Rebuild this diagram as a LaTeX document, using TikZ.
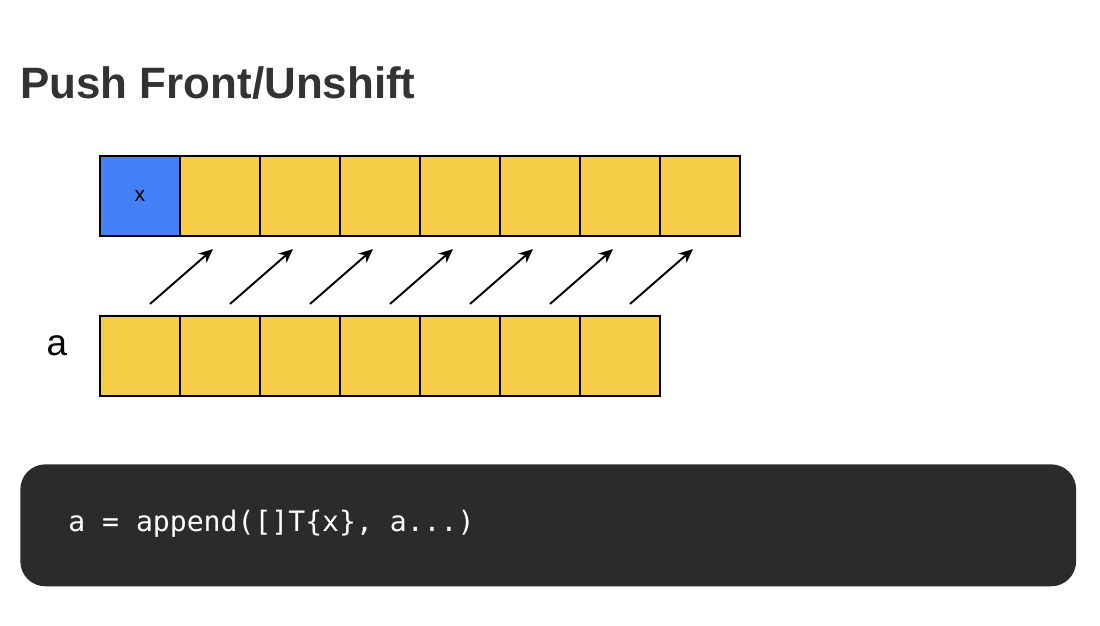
\documentclass[tikz,border=0pt]{standalone}
\usepackage{fontspec}
\setmainfont{Liberation Sans}
\setmonofont{DejaVu Sans Mono}
\usetikzlibrary{calc, arrows.meta}
\definecolor{cellyellow}{HTML}{F6CD47}
\definecolor{cellblue}{HTML}{4480F7}
\definecolor{codebg}{HTML}{2B2B2B}
\definecolor{titlegray}{HTML}{333333}
\tikzset{
  cell/.style = {rectangle, draw=black, line width=1.2pt, fill=cellyellow, minimum width=1.6cm, minimum height=1.6cm, inner sep=0pt, font=\fontsize{12}{14}\selectfont},
  newcell/.style = {cell, fill=cellblue},
  arrow/.style = {line width=1.1pt, -{Stealth[length=8pt, width=7pt]}}
}
\begin{document}
\begin{tikzpicture}[x=0.02cm, y=-0.02cm]
    \useasboundingbox (0,0) rectangle (1100,626);
    \node (title) [anchor=base west, inner sep=0pt, text=titlegray, font=\fontsize{25}{30}\selectfont\bfseries] at (20,98) {Push Front/Unshift};

    % result slice
    \node (t1) [newcell] at (140,196) {x};
    \foreach \i [remember=\i as \j (initially 1)] in {2,...,8}
        \node (t\i) [cell] at ($(t\j)+(80,0)$) {};

    % original slice
    \node (b1) [cell] at (140,356) {};
    \foreach \i [remember=\i as \j (initially 1)] in {2,...,7}
        \node (b\i) [cell] at ($(b\j)+(80,0)$) {};
    \node (alabel) [font=\fontsize{21}{24}\selectfont] at (57,346) {a};

    \foreach \i [evaluate=\i as \k using int(\i+1)] in {1,...,7}
        \draw [arrow] ($(b\i.north)+(10,-11)$) -- ($(t\k.south)+(-7,12)$);

    % code
    \node (code) [fill=codebg, rounded corners=0.5cm, minimum width=21.12cm, minimum height=2.44cm, anchor=north west] at (20,464) {};
    \node (codetext) [anchor=west, inner sep=0pt, text=white, font=\ttfamily\fontsize{16}{19}\selectfont] at (68,524) {a = append([]T\{x\}, a...)};
\end{tikzpicture}
\end{document}
